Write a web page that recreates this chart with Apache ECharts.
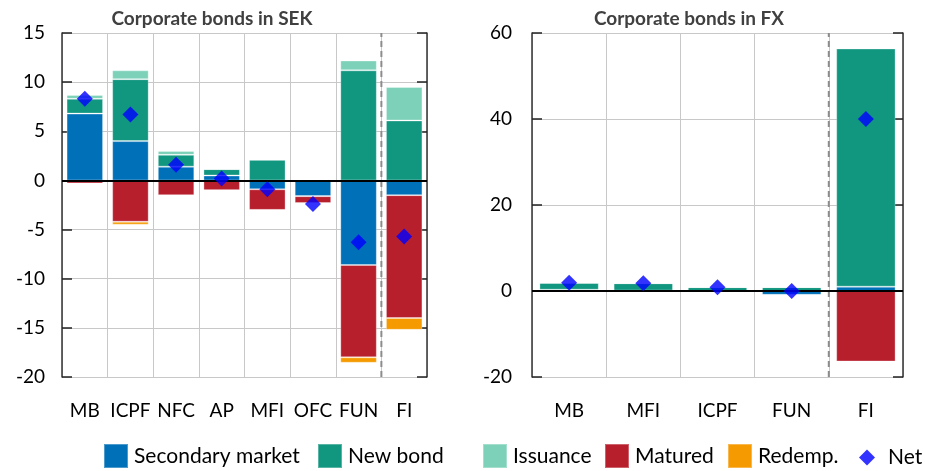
<!DOCTYPE html>
<html>
<head>
<meta charset="utf-8">
<script src="https://cdn.jsdelivr.net/npm/echarts@6/dist/echarts.min.js"></script>
<style>
  html, body { margin: 0; padding: 0; background: #fff; }
  #chart { width: 925px; height: 471px; }
</style>
</head>
<body>
<div id="chart"></div>
<script>
  // Corporate bonds in SEK
  const sekCats = ["MB", "ICPF", "NFC", "AP", "MFI", "OFC", "FUN", "FI"];
  const sekSecondary = [6.8, 4.0, 1.4, 0.5, -0.9, -1.6, -8.6, -1.5];
  const sekNewBond = [1.5, 6.3, 1.2, 0.65, 2.1, 0, 11.2, 6.1];
  const sekIssuance = [0.4, 0.9, 0.4, 0, 0, 0, 1.0, 3.4];
  const sekMatured = [-0.3, -4.2, -1.5, -1.0, -2.1, -0.7, -9.4, -12.5];
  const sekRedemp = [-0.1, -0.3, 0.1, 0, 0, -0.1, -0.55, -1.2];
  const sekNet = [8.3, 6.7, 1.6, 0.2, -0.9, -2.4, -6.3, -5.7];
  const sekTicks = { min: -20, max: 15, interval: 5 };

  // Corporate bonds in FX
  const fxCats = ["MB", "MFI", "ICPF", "FUN", "FI"];
  const fxSecondary = [0.3, 0.1, 0, -0.9, 1.0];
  const fxNewBond = [1.6, 1.7, 0.9, 0.9, 55.4];
  const fxIssuance = [0, 0, 0, 0, 0];
  const fxMatured = [0, 0, 0, 0, -16.4];
  const fxRedemp = [0, 0, 0, 0, 0];
  const fxNet = [1.9, 1.8, 0.9, 0.0, 40.0];
  const fxTicks = { min: -20, max: 60, interval: 20 };

  const colors = {
    secondary: "#0070b8",
    newBond: "#11967f",
    issuance: "#7dd1b8",
    matured: "#b81f2d",
    redemp: "#f59a00",
    net: "#0000ff",
  };
  const font = "Lato, 'Open Sans', sans-serif";
  const gridColor = "#c8c8c8";

  const chart = echarts.init(document.getElementById("chart"));

  const grids = [
    { left: 62, right: 498, top: 33, bottom: 94 },
    { left: 532, right: 22, top: 33, bottom: 94 },
  ];

  function catAxis(gi, cats) {
    return {
      type: "category",
      gridIndex: gi,
      data: cats,
      axisLine: { show: false },
      axisTick: { show: false },
      axisLabel: { color: "#000", fontSize: 19, fontFamily: font, margin: 24, interval: 0 },
      splitLine: { show: true, interval: 0, lineStyle: { color: gridColor, width: 1 } },
    };
  }

  function sepAxis(gi, cats) {
    return {
      type: "value",
      gridIndex: gi,
      min: 0,
      max: cats.length,
      show: false,
    };
  }

  function valAxes(gi, t, margin) {
    return [
      {
        type: "value",
        gridIndex: gi,
        min: t.min,
        max: t.max,
        interval: t.interval,
        axisLine: { show: true, lineStyle: { color: "#333", width: 1.5 } },
        axisTick: { show: true, inside: true, length: 10, lineStyle: { color: "#222", width: 1.5 } },
        axisLabel: { color: "#000", fontSize: 19, fontFamily: font, margin: margin },
        splitLine: { show: true, lineStyle: { color: gridColor, width: 1 } },
      },
      {
        type: "value",
        gridIndex: gi,
        position: "right",
        min: t.min,
        max: t.max,
        interval: t.interval,
        axisLine: { show: true, lineStyle: { color: "#333", width: 1.5 } },
        axisTick: { show: true, inside: true, length: 10, lineStyle: { color: "#222", width: 1.5 } },
        axisLabel: { show: false },
        splitLine: { show: false },
      },
    ];
  }

  function barSeries(name, data, color, xi, yi, extra) {
    return Object.assign({
      name: name,
      type: "bar",
      stack: "flow" + xi,
      xAxisIndex: xi,
      yAxisIndex: yi,
      data: data,
      barCategoryGap: "20%",
      itemStyle: { color: color, borderColor: "rgba(255,255,255,0.3)", borderWidth: 1 },
      emphasis: { disabled: true },
      animation: false,
    }, extra || {});
  }

  function panelSeries(gi, cats, d, t) {
    const xi = gi * 2;
    const yi = gi * 2;
    const sep = cats.length - 1;
    return [
      barSeries("Secondary market", d.secondary, colors.secondary, xi, yi, {
        markLine: {
          silent: true,
          symbol: "none",
          label: { show: false },
          lineStyle: { color: "#000", width: 2, type: "solid" },
          data: [{ yAxis: 0 }],
          animation: false,
        },
      }),
      barSeries("New bond", d.newBond, colors.newBond, xi, yi),
      barSeries("Issuance", d.issuance, colors.issuance, xi, yi),
      barSeries("Matured", d.matured, colors.matured, xi, yi),
      barSeries("Redemp.", d.redemp, colors.redemp, xi, yi),
      {
        name: "sep" + gi,
        type: "line",
        xAxisIndex: xi + 1,
        yAxisIndex: yi,
        data: [[sep, t.min], [sep, t.max]],
        symbol: "none",
        silent: true,
        lineStyle: { color: "#8c8c8c", width: 2, type: [6, 4] },
        z: 1,
        animation: false,
      },
      {
        name: "Net",
        type: "scatter",
        xAxisIndex: xi,
        yAxisIndex: yi,
        data: d.net,
        symbol: "diamond",
        symbolSize: 16,
        itemStyle: { color: colors.net },
        z: 5,
        animation: false,
      },
    ];
  }

  function legendItem(name, left, top, icon, w, h, gapLeft) {
    return {
      data: [{ name: name, icon: icon }],
      left: left,
      top: top,
      padding: 0,
      itemWidth: w,
      itemHeight: h,
      itemGap: 0,
      textStyle: { color: "#000", fontSize: 21, fontFamily: font, padding: [0, 0, 0, gapLeft] },
      selectedMode: false,
    };
  }

  chart.setOption({
    animation: false,
    title: [
      {
        text: "Corporate bonds in SEK",
        left: 207,
        top: 4,
        textAlign: "center",
        textStyle: { fontSize: 19, fontWeight: "bold", color: "#404040", fontFamily: font },
      },
      {
        text: "Corporate bonds in FX",
        left: 684,
        top: 4,
        textAlign: "center",
        textStyle: { fontSize: 19, fontWeight: "bold", color: "#404040", fontFamily: font },
      },
    ],
    legend: [
      legendItem("Secondary market", 103, 443, "rect", 24, 24, 1),
      legendItem("New bond", 317, 443, "rect", 24, 24, 1),
      legendItem("Issuance", 482, 443, "rect", 24, 24, 1),
      legendItem("Matured", 604, 443, "rect", 24, 24, 1),
      legendItem("Redemp.", 727, 443, "rect", 24, 24, 1),
      legendItem("Net", 859, 447, "diamond", 16, 16, 8),
    ],
    grid: grids,
    xAxis: [catAxis(0, sekCats), sepAxis(0, sekCats), catAxis(1, fxCats), sepAxis(1, fxCats)],
    yAxis: valAxes(0, sekTicks, 17).concat(valAxes(1, fxTicks, 20)),
    series: panelSeries(0, sekCats, {
      secondary: sekSecondary, newBond: sekNewBond, issuance: sekIssuance,
      matured: sekMatured, redemp: sekRedemp, net: sekNet,
    }, sekTicks).concat(panelSeries(1, fxCats, {
      secondary: fxSecondary, newBond: fxNewBond, issuance: fxIssuance,
      matured: fxMatured, redemp: fxRedemp, net: fxNet,
    }, fxTicks)),
  });
</script>
</body>
</html>
